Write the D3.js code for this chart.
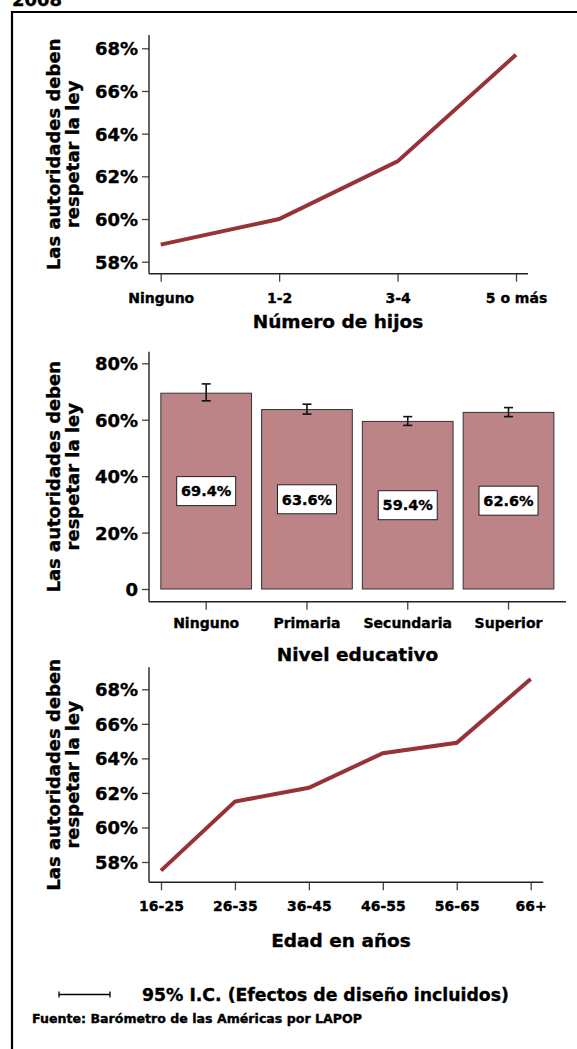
<!DOCTYPE html>
<html>
<head>
<meta charset="utf-8">
<script src="https://cdn.jsdelivr.net/npm/d3@7"></script>
<style>
  body { margin: 0; background: #fff; }
  svg { display: block; }
  text { font-family: "DejaVu Sans", sans-serif; font-weight: bold; fill: #000; stroke: #000; stroke-width: 0.35px; }
</style>
</head>
<body>
<svg id="chart" width="577" height="1049"></svg>
<script>
// ---- data ----
const hijosCats = ["Ninguno", "1-2", "3-4", "5 o más"];
const hijosValues = [58.8, 60.0, 62.7, 67.7];

const eduCats = ["Ninguno", "Primaria", "Secundaria", "Superior"];
const eduValues = [69.4, 63.6, 59.4, 62.6];
const eduLow = [66.7, 62.0, 58.0, 61.1];
const eduHigh = [72.7, 65.5, 61.1, 64.3];

const edadCats = ["16-25", "26-35", "36-45", "46-55", "56-65", "66+"];
const edadValues = [57.5, 61.5, 62.3, 64.3, 64.9, 68.6];

const pctTicks = [58, 60, 62, 64, 66, 68];
const barTicks = [0, 20, 40, 60, 80];

const yTitle = ["Las autoridades deben", "respetar la ley"];
const lineColor = "#983239";
const barColor = "#bc8486";

const svg = d3.select("#chart");

// frame + year on top (cut off in the original too)
svg.append("text").attr("x", 12).attr("y", 5.5).style("font-size", "18px").text("2008");
svg.append("path").attr("d", "M12,1049V12H577").attr("fill", "none")
  .attr("stroke", "#000").attr("stroke-width", 2.2);

// ==================================
// shared axis helper
// ==================================
function drawAxes(p, y, yFmt, xScale, xLabel) {
  const g = svg.append("g");
  // y axis
  const ya = g.append("g").attr("transform", `translate(${p.x0},0)`)
    .call(d3.axisLeft(y).tickValues(p.yTicks).tickSize(7).tickPadding(4).tickFormat(yFmt));
  ya.select(".domain").remove();
  ya.selectAll("text").style("font-size", "18px").attr("dy", "0.36em");
  g.append("line").attr("x1", p.x0).attr("x2", p.x0).attr("y1", p.yTop).attr("y2", p.yAxis)
    .attr("stroke", "#222").attr("stroke-width", 1.4);

  // x axis
  const xa = g.append("g").attr("transform", `translate(0,${p.yAxis})`)
    .call(d3.axisBottom(xScale).tickSize(8).tickPadding(8));
  xa.select(".domain").remove();
  xa.selectAll("text").style("font-size", "14px").attr("dy", 0).attr("y", p.xLabY - p.yAxis);
  g.append("line").attr("x1", p.x0).attr("x2", p.xEnd).attr("y1", p.yAxis).attr("y2", p.yAxis)
    .attr("stroke", "#222").attr("stroke-width", 1.4);
  g.selectAll(".tick line").attr("stroke", "#444").attr("stroke-width", 1.3);

  // titles
  const mid = (p.yTop + p.yAxis) / 2;
  yTitle.forEach((t, i) => {
    g.append("text").attr("transform", `translate(${60 + i * 18.5},${mid}) rotate(-90)`)
      .attr("text-anchor", "middle").style("font-size", "18px").text(t);
  });
  g.append("text").attr("x", p.titleX).attr("y", p.titleY).attr("text-anchor", "middle")
    .style("font-size", "18.5px").text(xLabel);
}

const pctFmt = d => d + "%";

// ==================================
// Panel 1: Número de hijos
// ==================================
{
  const p = { x0: 149, xEnd: 528, yTop: 35, yAxis: 273.7, yTicks: pctTicks, xLabY: 303.3, titleX: 338, titleY: 328 };
  const y = d3.scaleLinear().domain([58, 68]).range([261.7, 48.3]);
  const x = d3.scalePoint().domain(hijosCats).range([160.7, 516]);
  drawAxes(p, y, pctFmt, x, "Número de hijos");
  svg.append("path").datum(hijosValues)
    .attr("d", d3.line().x((d, i) => x(hijosCats[i])).y(d => y(d)))
    .attr("fill", "none").attr("stroke", lineColor).attr("stroke-width", 4);
}

// ==================================
// Panel 2: Nivel educativo (bars)
// ==================================
{
  const p = { x0: 149, xEnd: 566, yTop: 351.7, yAxis: 601.7, yTicks: barTicks, xLabY: 628.3, titleX: 357.5, titleY: 661 };
  const y = d3.scaleLinear().domain([0, 80]).range([589, 363.3]);
  const x = d3.scaleBand().domain(eduCats).range([155.8, 558.9]).paddingInner(0.1).paddingOuter(0.05);
  drawAxes(p, y, d => d === 0 ? "0" : d + "%", x, "Nivel educativo");

  const bars = svg.append("g");
  bars.selectAll("rect").data(eduValues).enter().append("rect")
    .attr("x", (d, i) => x(eduCats[i]))
    .attr("y", d => y(d))
    .attr("width", x.bandwidth())
    .attr("height", d => y(0) - y(d))
    .attr("fill", barColor).attr("stroke", "#333").attr("stroke-width", 1);

  // error bars
  const eb = svg.append("g").attr("stroke", "#111").attr("stroke-width", 1.6);
  eduCats.forEach((c, i) => {
    const cx = x(c) + x.bandwidth() / 2;
    eb.append("line").attr("x1", cx).attr("x2", cx).attr("y1", y(eduHigh[i])).attr("y2", y(eduLow[i]));
    eb.append("line").attr("x1", cx - 4.5).attr("x2", cx + 4.5).attr("y1", y(eduHigh[i])).attr("y2", y(eduHigh[i]));
    eb.append("line").attr("x1", cx - 4.5).attr("x2", cx + 4.5).attr("y1", y(eduLow[i])).attr("y2", y(eduLow[i]));
  });

  // value labels
  eduCats.forEach((c, i) => {
    const cx = x(c) + x.bandwidth() / 2;
    const cy = (y(eduValues[i]) + y(0)) / 2;
    svg.append("rect").attr("x", cx - 29.5).attr("y", cy - 14.5).attr("width", 59).attr("height", 29)
      .attr("fill", "#fff").attr("stroke", "#222").attr("stroke-width", 1);
    svg.append("text").attr("x", cx).attr("y", cy).attr("dy", "0.36em").attr("text-anchor", "middle")
      .style("font-size", "14.5px").text(eduValues[i].toFixed(1) + "%");
  });
}

// ==================================
// Panel 3: Edad en años
// ==================================
{
  const p = { x0: 149, xEnd: 543.3, yTop: 667.3, yAxis: 882.3, yTicks: pctTicks, xLabY: 910.7, titleX: 341, titleY: 947 };
  const y = d3.scaleLinear().domain([58, 68]).range([862, 689.3]);
  const x = d3.scalePoint().domain(edadCats).range([161, 530.7]);
  drawAxes(p, y, pctFmt, x, "Edad en años");
  svg.append("path").datum(edadValues)
    .attr("d", d3.line().x((d, i) => x(edadCats[i])).y(d => y(d)))
    .attr("fill", "none").attr("stroke", lineColor).attr("stroke-width", 4);
}

// ==================================
// legend + source
// ==================================
const lg = svg.append("g").attr("stroke", "#000").attr("stroke-width", 1.3);
lg.append("line").attr("x1", 59).attr("x2", 110).attr("y1", 994.5).attr("y2", 994.5);
lg.append("line").attr("x1", 59).attr("x2", 59).attr("y1", 991.5).attr("y2", 997.5);
lg.append("line").attr("x1", 110).attr("x2", 110).attr("y1", 991.5).attr("y2", 997.5);
svg.append("text").attr("x", 142).attr("y", 1000.5).style("font-size", "17.3px")
  .text("95% I.C. (Efectos de diseño incluidos)");
svg.append("text").attr("x", 32).attr("y", 1022.5).style("font-size", "12.6px")
  .text("Fuente: Barómetro de las Américas por LAPOP");
</script>
</body>
</html>
